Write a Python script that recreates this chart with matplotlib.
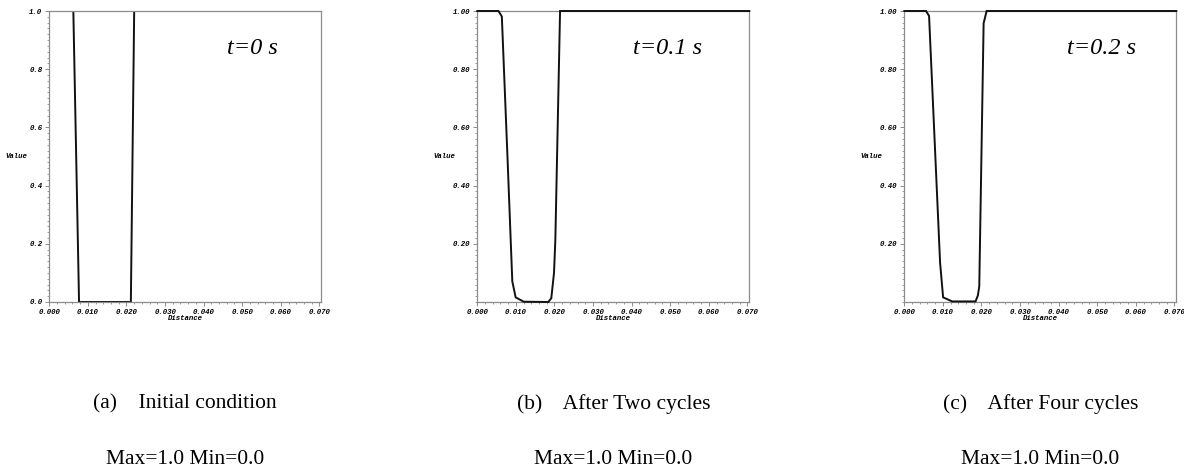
import matplotlib
matplotlib.use("Agg")
import matplotlib.pyplot as plt
from matplotlib.font_manager import FontProperties
from matplotlib.ticker import MultipleLocator, FixedLocator, FormatStrFormatter

# ---- data ----
x_a = [0.0, 0.00623, 0.00771, 0.02114, 0.02200, 0.0705]
v_a = [1.0, 1.0, 0.0, 0.0, 1.0, 1.0]

x_b = [0.0, 0.00549, 0.00636, 0.00785, 0.00907, 0.00994, 0.01203, 0.01840,
       0.01918, 0.01988, 0.02023, 0.02145, 0.0705]
v_b = [1.0, 1.0, 0.981, 0.489, 0.071, 0.016, 0.001, 0.0, 0.013, 0.10, 0.214, 1.0, 1.0]

x_c = [0.0, 0.00564, 0.00642, 0.00928, 0.01006, 0.01240, 0.01847, 0.01908,
       0.01943, 0.02056, 0.02134, 0.0705]
v_c = [1.0, 1.0, 0.983, 0.134, 0.016, 0.002, 0.002, 0.023, 0.054, 0.958, 1.0, 1.0]

times = ["t=0 s", "t=0.1 s", "t=0.2 s"]
letters = ["(a)", "(b)", "(c)"]
captions = ["Initial condition", "After Two cycles", "After Four cycles"]
maxmin = ["Max=1.0 Min=0.0", "Max=1.0 Min=0.0", "Max=1.0 Min=0.0"]
x_ticks = [0.0, 0.01, 0.02, 0.03, 0.04, 0.05, 0.06, 0.07]
y_ticks_a = [0.0, 0.2, 0.4, 0.6, 0.8, 1.0]
y_ticks_bc = [0.2, 0.4, 0.6, 0.8, 1.0]

xs = [x_a, x_b, x_c]
vs = [v_a, v_b, v_c]
yticks = [y_ticks_a, y_ticks_bc, y_ticks_bc]
yfmts = ["%.1f", "%.2f", "%.2f"]

# ---- layout ----
W, H = 1184, 470
fig = plt.figure(figsize=(W / 100, H / 100), dpi=100)
lefts = [49.3, 477.3, 904.3]
ax_w = 272
ax_top, ax_bot = 11, 302
tpos = [(0.745, 0.87), (0.70, 0.87), (0.724, 0.87)]
line_z = [2, 4, 4]
line_clip = [True, False, False]

mono = dict(family="Liberation Mono", style="italic", weight="bold", size=5.3)
spine_c = "#8c8c8c"

for i in range(3):
    ax = fig.add_axes([lefts[i] / W, (H - ax_bot) / H, ax_w / W, (ax_bot - ax_top) / H])
    ax.plot(xs[i], vs[i], color="#111111", lw=1.4, solid_joinstyle="miter",
            zorder=line_z[i], clip_on=line_clip[i])
    ax.set_xlim(0, 0.0705)
    ax.set_ylim(0, 1.0)
    for s in ax.spines.values():
        s.set_color(spine_c)
        s.set_linewidth(0.9)
        s.set_zorder(3)
    ax.xaxis.set_major_locator(FixedLocator(x_ticks))
    ax.xaxis.set_major_formatter(FormatStrFormatter("%.3f"))
    ax.xaxis.set_minor_locator(MultipleLocator(0.002))
    ax.yaxis.set_major_locator(FixedLocator(yticks[i]))
    ax.yaxis.set_major_formatter(FormatStrFormatter(yfmts[i]))
    ax.yaxis.set_minor_locator(MultipleLocator(0.02))
    ax.tick_params(which="major", length=3, width=0.7, color=spine_c, pad=2)
    ax.tick_params(which="minor", length=1.5, width=0.6, color=spine_c)
    for lab in ax.get_xticklabels() + ax.get_yticklabels():
        lab.set_fontproperties(FontProperties(**mono))
    ax.set_xlabel("Distance", fontproperties=FontProperties(**mono), labelpad=-0.5)
    ax.set_ylabel("Value", fontproperties=FontProperties(**mono),
                  rotation=0, ha="center", va="center")
    ax.yaxis.set_label_coords(-0.12, 0.5)
    ax.text(tpos[i][0], tpos[i][1], times[i], transform=ax.transAxes,
            family="Liberation Serif", style="italic", size=17.5, ha="center", va="center")
    cx = (lefts[i] + ax_w / 2) / W
    fig.text(cx, (H - 404) / H, letters[i] + "    " + captions[i],
             family="Liberation Serif", size=15.5, ha="center", va="center")
    fig.text(cx, (H - 459) / H, maxmin[i],
             family="Liberation Serif", size=15.5, ha="center", va="center")

fig.savefig("out.png", dpi=100)
